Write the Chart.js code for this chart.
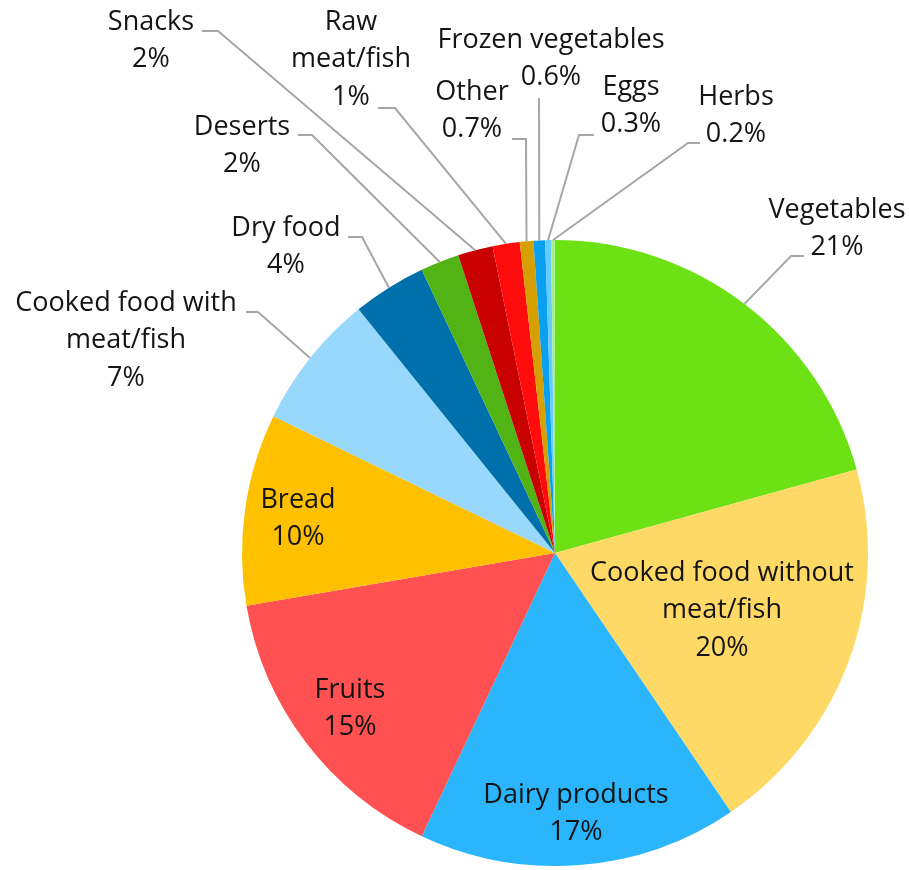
<!DOCTYPE html>
<html>
<head>
<meta charset="utf-8">
<script src="https://cdn.jsdelivr.net/npm/chart.js@4.4.1/dist/chart.umd.min.js"></script>
<style>
    html, body { margin: 0; padding: 0; background: #ffffff; }
    #wrap { width: 909px; height: 870px; position: relative; }
</style>
</head>
<body>
<div id="wrap"><canvas id="wasteChart"></canvas></div>
<script>

// Food waste shares (%), clockwise from 12 o'clock
const categories = [
    "Vegetables",
    "Cooked food without\nmeat/fish",
    "Dairy products",
    "Fruits",
    "Bread",
    "Cooked food with\nmeat/fish",
    "Dry food",
    "Deserts",
    "Snacks",
    "Raw\nmeat/fish",
    "Other",
    "Frozen vegetables",
    "Eggs",
    "Herbs"
];
const shares = [20.7, 19.8, 16.5, 15.3, 9.9, 7.0, 3.8, 2.0, 1.8, 1.4, 0.7, 0.6, 0.3, 0.2];

const colours = [
    "#6CE114", "#FFD966", "#2AB5FC", "#FF5151", "#FFC000", "#97D8FC", "#0070AC",
    "#52B414", "#C80000", "#FF0D0D", "#D6A100", "#0AA0F0", "#66CCFF", "#A9EE8A"
];

function pctText(v) {
    return v < 1 ? v.toFixed(1) + "%" : Math.round(v) + "%";
}

// Where each label sits (x centre, first line centre) and its leader line, if any
const labelLayout = [
    { x: 837, y: 210, leader: [[791, 256], [804, 256]] },
    { x: 722, y: 573 },
    { x: 576, y: 795 },
    { x: 350, y: 690 },
    { x: 298, y: 500 },
    { x: 126, y: 303, leader: [[258, 312], [246, 312]] },
    { x: 286, y: 228, leader: [[362, 237], [348, 237]] },
    { x: 242, y: 127, leader: [[312, 135], [298, 135]] },
    { x: 151, y: 22, leader: [[218, 31], [202, 31]] },
    { x: 351, y: 22, leader: [[395, 108], [378, 108]] },
    { x: 472, y: 92, leader: [[526, 139], [512, 139]] },
    { x: 551, y: 40, leader: [[539, 98]] },
    { x: 631, y: 87, leader: [[579, 135], [594, 135]] },
    { x: 736, y: 97, leader: [[688, 143], [700, 143]] }
];

const pieLabels = {
    id: "pieLabels",
    afterDatasetsDraw(chart) {
        const ctx = chart.ctx;
        const meta = chart.getDatasetMeta(0);
        const lineHeight = 37.5;

        ctx.save();

        // leader lines
        ctx.strokeStyle = "#A6A6A6";
        ctx.lineWidth = 2;
        meta.data.forEach((arc, i) => {
            const lay = labelLayout[i];
            if (!lay.leader) return;
            const p = arc.getProps(["x", "y", "startAngle", "endAngle", "outerRadius"], true);
            const mid = (p.startAngle + p.endAngle) / 2;
            ctx.beginPath();
            ctx.moveTo(p.x + Math.cos(mid) * p.outerRadius, p.y + Math.sin(mid) * p.outerRadius);
            lay.leader.forEach(pt => ctx.lineTo(pt[0], pt[1]));
            ctx.stroke();
        });

        // texts
        ctx.fillStyle = "#141414";
        ctx.font = "27px 'Open Sans'";
        ctx.textAlign = "center";
        ctx.textBaseline = "middle";
        categories.forEach((name, i) => {
            const lines = name.split("\n");
            lines.push(pctText(shares[i]));
            const lay = labelLayout[i];
            lines.forEach((txt, k) => {
                ctx.fillText(txt, lay.x, lay.y + k * lineHeight);
            });
        });

        ctx.restore();
    }
};

const ctx = document.getElementById("wasteChart").getContext("2d");

new Chart(ctx, {
    type: "pie",
    data: {
        labels: categories,
        datasets: [{
            data: shares,
            backgroundColor: colours,
            borderWidth: 0
        }]
    },
    options: {
        responsive: true,
        maintainAspectRatio: false,
        devicePixelRatio: 1,
        animation: false,
        layout: {
            padding: { left: 242, right: 41, top: 240, bottom: 4 }
        },
        plugins: {
            legend: { display: false },
            tooltip: { enabled: false }
        }
    },
    plugins: [pieLabels]
});
</script>
</body>
</html>
